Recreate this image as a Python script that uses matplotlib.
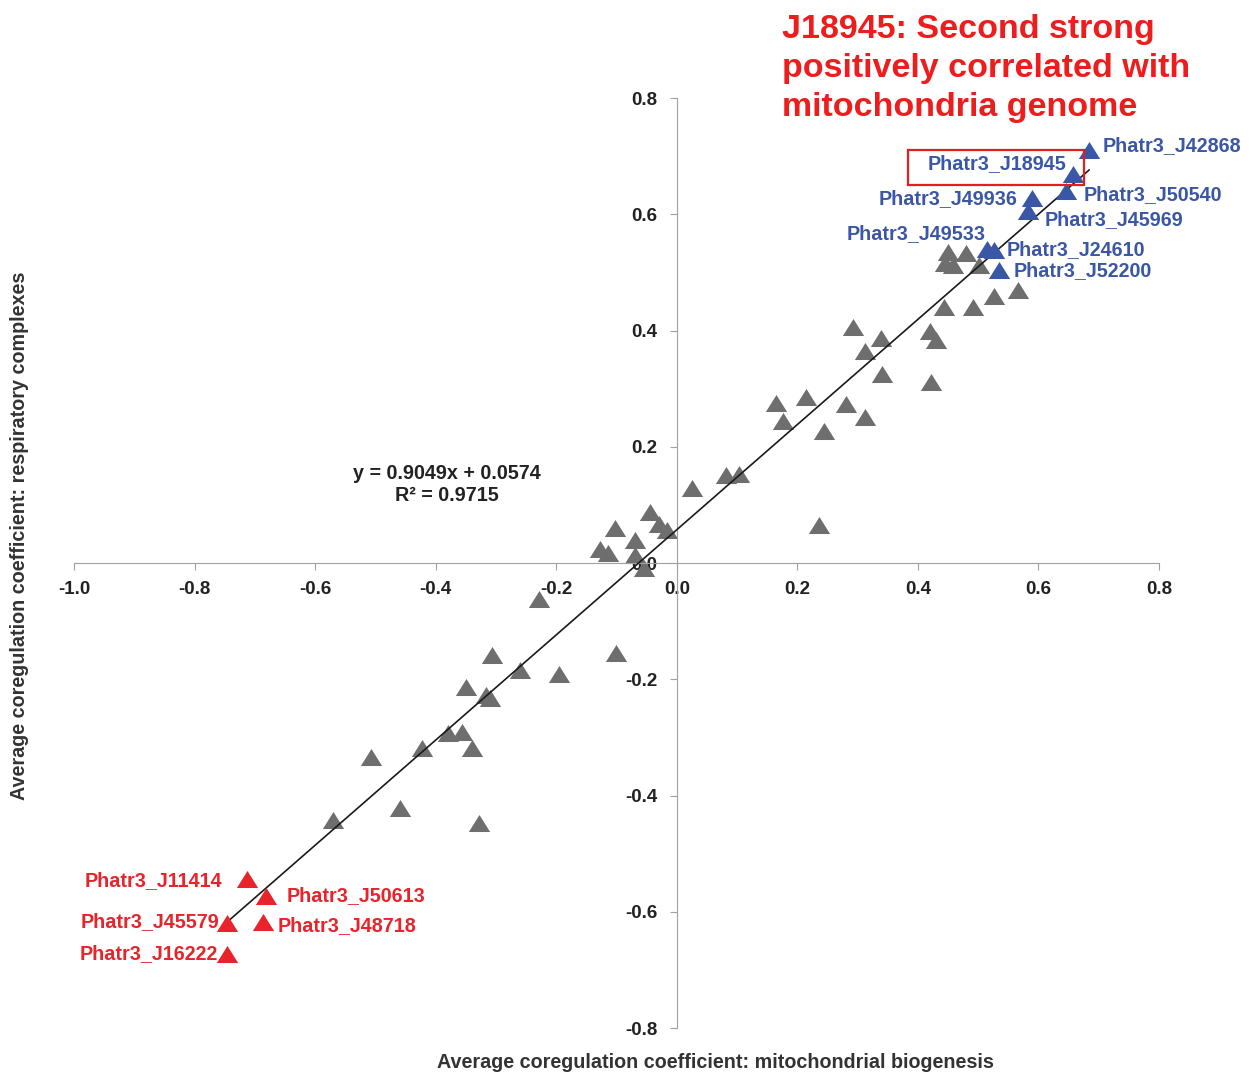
import numpy as np
import matplotlib
matplotlib.use("Agg")
import matplotlib.pyplot as plt
from matplotlib.patches import Rectangle
from matplotlib.path import Path

plt.rcParams['font.family'] = ['Liberation Sans', 'DejaVu Sans']
plt.rcParams['font.weight'] = 'bold'

# gray points (all other genes)
gray_x = [0.450, 0.479, 0.445, 0.458, 0.502, 0.527, 0.566, 0.444, 0.491,
          0.292, 0.420, 0.430, 0.338, 0.313, 0.340, 0.422,
          0.165, 0.215, 0.176, 0.281, 0.312, 0.245,
          0.026, 0.081, 0.103, 0.236,
          -0.044, -0.029, -0.016, -0.103, -0.127, -0.114, -0.070, -0.070, -0.055,
          -0.228, -0.306, -0.260, -0.196, -0.350, -0.316, -0.310, -0.101,
          -0.379, -0.357, -0.340, -0.422, -0.507, -0.459, -0.328, -0.570]
gray_y = [0.536, 0.533, 0.516, 0.513, 0.513, 0.459, 0.470, 0.441, 0.440,
          0.407, 0.400, 0.384, 0.387, 0.365, 0.325, 0.312,
          0.275, 0.285, 0.245, 0.273, 0.251, 0.227,
          0.130, 0.151, 0.154, 0.065,
          0.088, 0.068, 0.057, 0.060, 0.024, 0.017, 0.040, 0.014, -0.008,
          -0.061, -0.158, -0.184, -0.190, -0.213, -0.227, -0.233, -0.155,
          -0.293, -0.290, -0.319, -0.319, -0.333, -0.422, -0.448, -0.442]

# positively correlated genes (blue)
blue_names = ['Phatr3_J42868', 'Phatr3_J18945', 'Phatr3_J50540', 'Phatr3_J49936',
              'Phatr3_J45969', 'Phatr3_J49533', 'Phatr3_J24610', 'Phatr3_J52200']
blue_x = [0.684, 0.657, 0.645, 0.590, 0.583, 0.515, 0.526, 0.535]
blue_y = [0.710, 0.670, 0.640, 0.628, 0.605, 0.540, 0.539, 0.504]

# negatively correlated genes (red)
red_names = ['Phatr3_J11414', 'Phatr3_J50613', 'Phatr3_J45579',
             'Phatr3_J48718', 'Phatr3_J16222']
red_x = [-0.713, -0.682, -0.747, -0.686, -0.746]
red_y = [-0.544, -0.573, -0.620, -0.617, -0.672]

slope, intercept, r2 = 0.9049, 0.0574, 0.9715
ticks = [-1.0, -0.8, -0.6, -0.4, -0.2, 0.0, 0.2, 0.4, 0.6, 0.8]
yticks = [-0.8, -0.6, -0.4, -0.2, 0.0, 0.2, 0.4, 0.6, 0.8]

# label offsets in pixels (dx, dy, ha)
blue_off = [(14, 5, 'left'), (-6, 10, 'right'), (18, -3, 'left'), (-15, 0, 'right'),
            (16, -8, 'left'), (-2, 16, 'right'), (13, 0, 'left'), (14, 0, 'left')]
red_off = [(-25, -1, 'right'), (21, 1, 'left'), (-7, 2, 'right'),
           (14, -4, 'left'), (-9, 0, 'right')]

gray_c = '#6e6e6e'
blue_c = '#3a56a6'
red_c = '#e8232a'

tri = Path([(-1, -0.8), (1, -0.8), (0, 0.8), (-1, -0.8)],
           [Path.MOVETO, Path.LINETO, Path.LINETO, Path.CLOSEPOLY])

fig = plt.figure(figsize=(12.5, 10.75), dpi=100)
ax = fig.add_axes([0.0592, 0.0437, 0.868, 0.865])
ax.set_xlim(-1.0, 0.8)
ax.set_ylim(-0.8, 0.8)

for s in ['top', 'right']:
    ax.spines[s].set_visible(False)
ax.spines['left'].set_position('zero')
ax.spines['bottom'].set_position('zero')
ax.spines['left'].set_color('#a0a0a0')
ax.spines['bottom'].set_color('#a0a0a0')
ax.set_xticks(ticks)
ax.set_yticks(yticks)
ax.set_xticklabels(['%.1f' % t for t in ticks])
ax.set_yticklabels(['%.1f' % t for t in yticks])
ax.tick_params(axis='x', direction='out', length=5, color='#a0a0a0', pad=8,
               labelsize=13.5, labelcolor='#222222')
ax.tick_params(axis='y', direction='out', length=5, color='#a0a0a0', pad=9,
               labelsize=13.5, labelcolor='#222222')
for lab in ax.get_xticklabels() + ax.get_yticklabels():
    lab.set_fontweight('bold')

# trendline
all_x = np.array(gray_x + blue_x + red_x)
lx = np.array([all_x.min(), all_x.max()])
ax.plot(lx, slope * lx + intercept, color='#1a1a1a', lw=1.2, zorder=3)

ax.scatter(gray_x, gray_y, marker=tri, s=235, color=gray_c, lw=0, zorder=2)
ax.scatter(blue_x, blue_y, marker=tri, s=235, color=blue_c, lw=0, zorder=4)
ax.scatter(red_x, red_y, marker=tri, s=235, color=red_c, lw=0, zorder=4)

for n, x, y, (dx, dy, ha) in zip(blue_names, blue_x, blue_y, blue_off):
    ax.annotate(n, (x, y), xytext=(dx, dy), textcoords='offset pixels',
                ha=ha, va='center', color=blue_c, fontsize=14.2, fontweight='bold')
for n, x, y, (dx, dy, ha) in zip(red_names, red_x, red_y, red_off):
    ax.annotate(n, (x, y), xytext=(dx, dy), textcoords='offset pixels',
                ha=ha, va='center', color=red_c, fontsize=14.2, fontweight='bold')

ax.add_patch(Rectangle((0.383, 0.651), 0.292, 0.060, fill=False,
                       edgecolor='#e02020', lw=1.6, zorder=5))

ax.text(-0.381, 0.136, 'y = %.4fx + %.4f\nR² = %.4f' % (slope, intercept, r2),
        ha='center', va='center', fontsize=14.2, fontweight='bold',
        color='#222222', linespacing=1.2)

fig.text(0.572, 0.012, 'Average coregulation coefficient: mitochondrial biogenesis',
         ha='center', va='center', fontsize=14.2, fontweight='bold', color='#333333')
fig.text(0.016, 0.502, 'Average coregulation coefficient: respiratory complexes',
         ha='center', va='center', rotation=90, fontsize=14.2,
         fontweight='bold', color='#333333')

fig.text(0.6256, 0.987, 'J18945: Second strong\npositively correlated with\nmitochondria genome',
         ha='left', va='top', fontsize=24.5, fontweight='bold', color='#ee1c1c',
         linespacing=1.33)

fig.savefig('out.png', dpi=100)
